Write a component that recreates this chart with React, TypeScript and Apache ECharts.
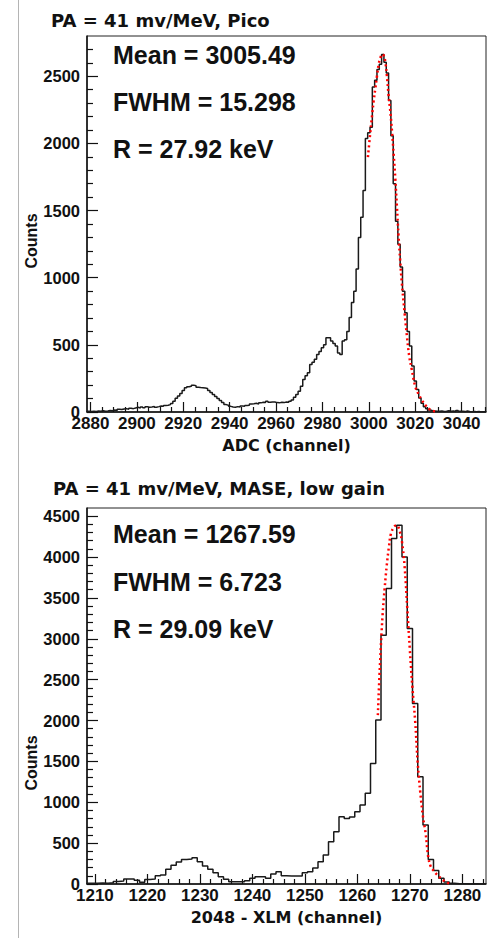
import React, { useEffect, useRef } from "react";
import * as echarts from "echarts";

// ---------- top panel (Pico) ----------
const topTitle = "PA = 41 mv/MeV, Pico";
const topStats = ["Mean = 3005.49", "FWHM = 15.298", "R = 27.92 keV"];
const topXName = "ADC (channel)";
const topStart = 2879; // first bin centre (1 channel per bin)
const topCounts = [
  5, 3, 6, 4, 8, 5, 10, 6, 8, 12,
  10, 15, 12, 20, 18, 22, 25, 20, 28, 25,
  30, 35, 30, 38, 32, 40, 35, 38, 42, 36,
  40, 45, 42, 48, 50, 55, 63, 80, 102, 120,
  137, 160, 180, 188, 192, 200, 195, 185, 182, 180,
  178, 175, 160, 145, 130, 115, 100, 85, 70, 55,
  50, 42, 38, 36, 40, 38, 45, 42, 48, 50,
  60, 62, 65, 60, 68, 72, 70, 80, 72, 75,
  75, 70, 68, 72, 70, 75, 72, 80, 90, 110,
  130, 155, 192, 242, 270, 292, 354, 370, 392, 429,
  450, 478, 500, 553, 553, 528, 510, 491, 440, 429,
  528, 538, 600, 703, 815, 900, 1064, 1300, 1450, 1650,
  2036, 2080, 2120, 2420, 2470, 2550, 2590, 2662, 2605, 2525,
  2320, 2058, 1700, 1420, 1250, 1080, 900, 740, 600, 491,
  342, 230, 167, 105, 65, 40, 25, 15, 10, 8,
  6, 5, 8, 4, 6, 10, 5, 8, 4, 12,
  6, 5, 3, 8, 4, 2, 3, 2, 4, 1,
  2, 0,
];
const topFitX = [
  2999.6, 3000.5, 3001.4, 3002.1, 3002.8, 3003.5, 3004.2, 3005.0, 3005.9, 3006.5,
  3007.1, 3007.8, 3008.5, 3009.3, 3010.0, 3010.7, 3011.4, 3012.1, 3012.8, 3013.5,
  3014.2, 3015.4, 3016.4, 3017.4, 3018.5, 3020.0, 3021.5, 3023.0, 3024.5, 3026.0,
  3027.5, 3029.0,
];
const topFitY = [
  1898, 2060, 2210, 2320, 2409, 2500, 2584, 2640, 2664, 2650,
  2608, 2500, 2359, 2230, 2085, 1920, 1737, 1530, 1313, 1130,
  964, 740, 566, 416, 317, 190, 130, 85, 48, 22,
  9, 3,
];
const topXTicks = [2880, 2900, 2920, 2940, 2960, 2980, 3000, 3020, 3040];
const topYTicks = [0, 500, 1000, 1500, 2000, 2500];

// ---------- bottom panel (MASE) ----------
const botTitle = "PA = 41 mv/MeV, MASE, low gain";
const botStats = ["Mean = 1267.59", "FWHM = 6.723", "R = 29.09 keV"];
const botXName = "2048 - XLM (channel)";
const botStart = 1209;
const botCounts = [
  10, 8, 12, 10, 15, 30, 37, 60, 61, 45,
  20, 55, 60, 100, 110, 180, 230, 270, 300, 305,
  322, 273, 220, 180, 138, 90, 57, 28, 28, 28,
  40, 70, 90, 90, 70, 122, 150, 100, 98, 98,
  98, 138, 150, 195, 273, 354, 517, 640, 823, 800,
  820, 884, 966, 1110, 1475, 2005, 3044, 3615, 4226, 4389,
  4001, 3126, 2209, 1312, 721, 300, 165, 70, 25, 8,
  2, 4, 0, 2, 0, 0,
];
const botFitX = [
  1263.9, 1264.3, 1264.8, 1265.2, 1265.6, 1266.0, 1266.4, 1267.0, 1267.5, 1268.0,
  1268.5, 1269.0, 1269.5, 1270.0, 1270.5, 1271.0, 1271.5, 1272.0, 1272.5, 1273.0,
  1273.5, 1274.0, 1274.5, 1275.0, 1275.5, 1276.0, 1276.5, 1277.0, 1277.5,
];
const botFitY = [
  2066, 2677, 3289, 3620, 3900, 4120, 4287, 4370, 4389, 4330,
  4185, 3880, 3380, 2860, 2392, 2000, 1475, 1110, 820, 620,
  330, 210, 165, 125, 92, 65, 40, 20, 8,
];
const botXTicks = [1210, 1220, 1230, 1240, 1250, 1260, 1270, 1280];
const botYTicks = [0, 500, 1000, 1500, 2000, 2500, 3000, 3500, 4000, 4500];

const yName = "Counts";

const LIB = "'Liberation Sans', Arial, Helvetica, sans-serif";
const DJV = "'DejaVu Sans', 'Liberation Sans', sans-serif";
const INK = "#111";
const plain = (v: number) => String(v);

function minorTicks(lo: number, hi: number, step: number, majors: number[]) {
  const out: number[] = [];
  for (let v = lo; v <= hi + 1e-9; v += step) {
    const r = Math.round(v * 1000) / 1000;
    if (!majors.includes(r)) out.push(r);
  }
  return out;
}

function histData(start: number, counts: number[]) {
  const d: number[][] = counts.map((v, i) => [start - 0.5 + i, v]);
  d.push([start - 0.5 + counts.length, counts[counts.length - 1]]);
  return d;
}

function xAxes(grid: number, min: number, max: number, majors: number[], minors: number[], name: string) {
  return [
    {
      type: "value", gridIndex: grid, position: "bottom", min, max,
      name, nameLocation: "middle", nameGap: 25,
      nameTextStyle: { fontFamily: DJV, fontWeight: "bold", fontSize: 16, color: INK, verticalAlign: "top" },
      axisLine: { show: true, onZero: false, lineStyle: { color: INK, width: 1.5 } },
      axisTick: { show: true, inside: true, length: 10, customValues: majors, lineStyle: { color: INK, width: 1.2 } },
      axisLabel: { show: true, customValues: majors, formatter: plain, margin: 3, fontFamily: LIB, fontWeight: "bold", fontSize: 17, color: INK },
      splitLine: { show: false },
    },
    {
      type: "value", gridIndex: grid, position: "bottom", min, max,
      axisLine: { show: false, onZero: false },
      axisTick: { show: true, inside: true, length: 5, customValues: minors, lineStyle: { color: INK, width: 1.2 } },
      axisLabel: { show: false },
      splitLine: { show: false },
    },
  ];
}

function yAxes(grid: number, max: number, majors: number[], minors: number[]) {
  return [
    {
      type: "value", gridIndex: grid, position: "left", min: 0, max,
      axisLine: { show: true, onZero: false, lineStyle: { color: INK, width: 1.5 } },
      axisTick: { show: true, inside: true, length: 11, customValues: majors, lineStyle: { color: INK, width: 1.2 } },
      axisLabel: { show: true, customValues: majors, formatter: plain, margin: 7, fontFamily: LIB, fontWeight: "bold", fontSize: 16.5, color: INK },
      splitLine: { show: false },
    },
    {
      type: "value", gridIndex: grid, position: "left", min: 0, max,
      axisLine: { show: false, onZero: false },
      axisTick: { show: true, inside: true, length: 6, customValues: minors, lineStyle: { color: INK, width: 1.2 } },
      axisLabel: { show: false },
      splitLine: { show: false },
    },
  ];
}

function textEl(text: string, x: number, y: number, size: number, family: string, rotation = 0, align = "left") {
  return {
    type: "text", x, y, rotation, silent: true,
    style: { text, fill: INK, font: `bold ${size}px ${family}`, textAlign: align, textVerticalAlign: "middle" },
  };
}

export default function App() {
  const ref = useRef<HTMLDivElement>(null);
  useEffect(() => {
    if (!ref.current) return;
    const chart = echarts.init(ref.current, null, { renderer: "svg" });

    const topXMin = 2878.5, topXMax = 3050.5, topYMax = 2800;
    const botXMin = 1208.5, botXMax = 1284.5, botYMax = 4600;

    const option: any = {
      animation: false,
      backgroundColor: "#fff",
      grid: [
        { left: 87, top: 36, width: 399, height: 376, show: true, borderColor: "#222", borderWidth: 1, backgroundColor: "transparent" },
        { left: 87, top: 508, width: 399, height: 376, show: true, borderColor: "#222", borderWidth: 1, backgroundColor: "transparent" },
      ],
      xAxis: [
        ...xAxes(0, topXMin, topXMax, topXTicks, minorTicks(2880, 3050, 5, topXTicks), topXName),
        ...xAxes(1, botXMin, botXMax, botXTicks, minorTicks(1210, 1284, 2, botXTicks), botXName),
      ],
      yAxis: [
        ...yAxes(0, topYMax, topYTicks, minorTicks(0, 2700, 100, topYTicks)),
        ...yAxes(1, botYMax, botYTicks, minorTicks(0, 4500, 100, botYTicks)),
      ],
      series: [
        {
          type: "line", xAxisIndex: 0, yAxisIndex: 0, step: "end", symbol: "none",
          data: histData(topStart, topCounts),
          lineStyle: { color: "#1a1a1a", width: 1.5 }, z: 3,
        },
        {
          type: "line", xAxisIndex: 0, yAxisIndex: 0, smooth: 0.4, symbol: "none",
          data: topFitX.map((x, i) => [x, topFitY[i]]),
          lineStyle: { color: "#ff0000", width: 2.5, type: [2, 3] }, z: 4,
        },
        {
          type: "line", xAxisIndex: 2, yAxisIndex: 2, step: "end", symbol: "none",
          data: histData(botStart, botCounts),
          lineStyle: { color: "#1a1a1a", width: 1.5 }, z: 3,
        },
        {
          type: "line", xAxisIndex: 2, yAxisIndex: 2, smooth: 0.4, symbol: "none",
          data: botFitX.map((x, i) => [x, botFitY[i]]),
          lineStyle: { color: "#ff0000", width: 2.5, type: [2, 3] }, z: 4,
        },
      ],
      graphic: [
        { type: "line", silent: true, shape: { x1: 18.5, y1: 0, x2: 18.5, y2: 938 }, style: { stroke: "#b4b4b4", lineWidth: 1 } },
        textEl(topTitle, 51, 20, 18, DJV),
        textEl(botTitle, 53, 488, 18, DJV),
        textEl(topStats[0], 113, 55, 25, LIB),
        textEl(topStats[1], 113, 102, 25, LIB),
        textEl(topStats[2], 113, 149, 25, LIB),
        textEl(botStats[0], 113, 534, 25, LIB),
        textEl(botStats[1], 113, 581.5, 25, LIB),
        textEl(botStats[2], 113, 629, 25, LIB),
        textEl(yName, 31, 241, 16, LIB, Math.PI / 2, "center"),
        textEl(yName, 31, 763, 16, LIB, Math.PI / 2, "center"),
      ],
    };
    chart.setOption(option);
    return () => chart.dispose();
  }, []);
  return (
    <div
      ref={ref}
      style={{ position: "fixed", left: 0, top: 0, width: 493, height: 938, background: "#fff" }}
    />
  );
}
